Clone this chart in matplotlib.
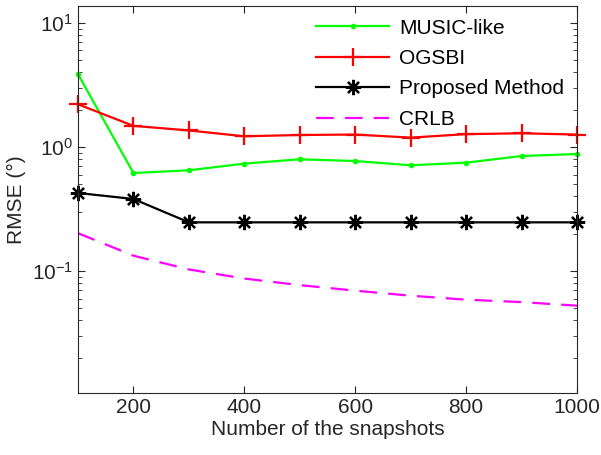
import matplotlib.pyplot as plt
from matplotlib import rcParams

snapshots = [100, 200, 300, 400, 500, 600, 700, 800, 900, 1000]
music_like = [3.86, 0.617, 0.649, 0.735, 0.796, 0.771, 0.712, 0.748, 0.846, 0.878]
ogsbi = [2.21, 1.48, 1.36, 1.22, 1.25, 1.26, 1.19, 1.27, 1.29, 1.26]
proposed = [0.426, 0.381, 0.247, 0.247, 0.247, 0.247, 0.247, 0.247, 0.247, 0.247]
crlb = [0.202, 0.133, 0.103, 0.087, 0.077, 0.0695, 0.0633, 0.0588, 0.0562, 0.0526]
xtick_vals = [200, 400, 600, 800, 1000]

rcParams.update({'font.size': 15, 'font.family': ['Liberation Sans', 'DejaVu Sans'],
                 'mathtext.fontset': 'custom', 'mathtext.rm': 'Liberation Sans',
                 'mathtext.it': 'Liberation Sans:italic', 'mathtext.bf': 'Liberation Sans:bold'})

fig = plt.figure(figsize=(6.01, 4.55), dpi=100)
ax = fig.add_axes([0.1298, 0.1363, 0.8302, 0.8505])

ax.semilogy(snapshots, music_like, color=(0, 1, 0), linewidth=1.6, marker='.', markersize=6,
            label='MUSIC-like', clip_on=False)
ax.semilogy(snapshots, ogsbi, color=(1, 0, 0), linewidth=1.6, marker='+', markersize=13,
            markeredgewidth=1.6, label='OGSBI', clip_on=False)
ax.semilogy(snapshots, proposed, color='k', linewidth=1.6, marker=(8, 2, 0), markersize=11,
            markeredgewidth=1.6, label='Proposed Method', clip_on=False)
ax.semilogy(snapshots, crlb, color=(1, 0, 1), linewidth=1.6, linestyle=(0, (8, 5)),
            label='CRLB')

ax.set_xlim(100, 1000)
ax.set_ylim(0.0104, 13.7)
ax.set_xticks(xtick_vals)
ax.tick_params(which='both', direction='in', top=True, right=True, colors='0.15', labelsize=15)
ax.tick_params(which='major', length=5)
ax.tick_params(which='minor', length=3)
for s in ax.spines.values():
    s.set_color('0.15')
ax.set_xlabel('Number of the snapshots', color='0.15', labelpad=2)
ax.set_ylabel('RMSE (°)', color='0.15', labelpad=4)
ax.legend(loc='upper right', frameon=False, handlelength=3.5, labelspacing=0.55,
          handletextpad=0.5, borderaxespad=0.2, fontsize=15)

fig.savefig('out.png', dpi=100)
